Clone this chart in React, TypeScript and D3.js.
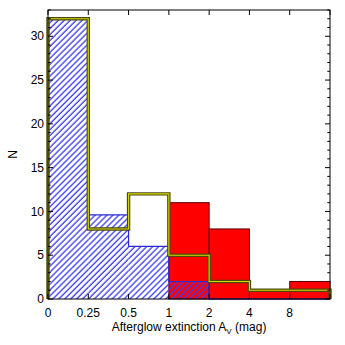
import * as d3 from "d3";

// bins are equally spaced on the x axis, labelled by their lower edge
const binLabels = ["0", "0.25", "0.5", "1", "2", "4", "8"];
const blueCounts = [32, 9.6, 6, 2, 0, 0, 0];
const redCounts = [0, 0, 0, 11, 8, 1, 2];
const outlineCounts = [32, 8, 12, 5, 2, 1, 1];
const yMajorTicks = [0, 5, 10, 15, 20, 25, 30];

const W = 345;
const H = 345;
const MARGIN = { top: 10, right: 15, bottom: 46, left: 48 };
const FONT = "'Liberation Sans', Arial, Helvetica, sans-serif";

const App = () => {
  const x0 = MARGIN.left;
  const x1 = W - MARGIN.right;
  const y0 = H - MARGIN.bottom;
  const y1 = MARGIN.top;

  const nBins = binLabels.length;
  const xScale = d3.scaleLinear().domain([0, nBins]).range([x0, x1]);
  const yScale = d3.scaleLinear().domain([0, 33]).range([y0, y1]);

  // step outline of a histogram, starting and ending on the baseline
  const stepPath = (counts: number[]) => {
    const p = d3.path();
    p.moveTo(xScale(0), yScale(0));
    counts.forEach((c, i) => {
      p.lineTo(xScale(i), yScale(c));
      p.lineTo(xScale(i + 1), yScale(c));
    });
    p.lineTo(xScale(nBins), yScale(0));
    return p.toString();
  };

  const minorTicks = d3.range(0, 34, 1).filter((t) => t % 5 !== 0);

  return (
    <svg width={W} height={H} style={{ position: "absolute", left: 0, top: 0 }}>
      <defs>
        <pattern
          id="hatch"
          patternUnits="userSpaceOnUse"
          width={4.2}
          height={4.2}
          patternTransform="rotate(45)"
        >
          <line x1={1} y1={0} x2={1} y2={4.2} stroke="#3a3aff" strokeWidth={1.3} />
        </pattern>
      </defs>
      <rect x={0} y={0} width={W} height={H} fill="#fff" />

      {/* red bars */}
      {redCounts.map((c, i) =>
        c > 0 ? (
          <rect
            key={"r" + i}
            x={xScale(i)}
            y={yScale(c)}
            width={xScale(i + 1) - xScale(i)}
            height={yScale(0) - yScale(c)}
            fill="#ff0000"
            stroke="#5a0000"
            strokeWidth={1}
          />
        ) : null
      )}

      {/* blue hatched histogram */}
      {blueCounts.map((c, i) =>
        c > 0 ? (
          <rect
            key={"b" + i}
            x={xScale(i)}
            y={yScale(c)}
            width={xScale(i + 1) - xScale(i)}
            height={yScale(0) - yScale(c)}
            fill="url(#hatch)"
          />
        ) : null
      )}
      <path d={stepPath(blueCounts)} fill="none" stroke="#2a2ad0" strokeWidth={1.2} />

      {/* dark + yellow outlined histogram */}
      <path d={stepPath(outlineCounts)} fill="none" stroke="#4a4a0a" strokeWidth={3.4} />
      <path d={stepPath(outlineCounts)} fill="none" stroke="#d8d800" strokeWidth={1.1} />

      {/* frame */}
      <rect x={x0} y={y1} width={x1 - x0} height={y0 - y1} fill="none" stroke="#000" strokeWidth={1} />

      {/* y ticks, left and right, pointing inward */}
      {yMajorTicks.map((t) => (
        <g key={"ym" + t}>
          <line x1={x0} x2={x0 + 5} y1={yScale(t)} y2={yScale(t)} stroke="#000" />
          <line x1={x1} x2={x1 - 5} y1={yScale(t)} y2={yScale(t)} stroke="#000" />
          <text
            x={x0 - 4}
            y={yScale(t)}
            dy="0.35em"
            textAnchor="end"
            fontFamily={FONT}
            fontSize={12}
          >
            {t}
          </text>
        </g>
      ))}
      {minorTicks.map((t) => (
        <g key={"yn" + t}>
          <line x1={x0} x2={x0 + 2.7} y1={yScale(t)} y2={yScale(t)} stroke="#000" />
          <line x1={x1} x2={x1 - 2.7} y1={yScale(t)} y2={yScale(t)} stroke="#000" />
        </g>
      ))}

      {/* x ticks on bin edges, top and bottom */}
      {d3.range(0, nBins + 1).map((i) => (
        <g key={"x" + i}>
          <line x1={xScale(i)} x2={xScale(i)} y1={y0} y2={y0 - 5} stroke="#000" />
          <line x1={xScale(i)} x2={xScale(i)} y1={y1} y2={y1 + 5} stroke="#000" />
        </g>
      ))}
      {binLabels.map((lab, i) => (
        <text
          key={"xl" + i}
          x={xScale(i)}
          y={y0 + 18}
          textAnchor="middle"
          fontFamily={FONT}
          fontSize={12}
        >
          {lab}
        </text>
      ))}

      {/* axis titles */}
      <text
        x={(x0 + x1) / 2}
        y={y0 + 32}
        textAnchor="middle"
        fontFamily={FONT}
        fontSize={12}
      >
        Afterglow extinction A
        <tspan fontSize={8} dy={3}>V</tspan>
        <tspan dy={-3}> (mag)</tspan>
      </text>
      <text
        transform={`translate(17,${(y0 + y1) / 2}) rotate(-90)`}
        textAnchor="middle"
        fontFamily={FONT}
        fontSize={12}
      >
        N
      </text>
    </svg>
  );
};

export default App;
